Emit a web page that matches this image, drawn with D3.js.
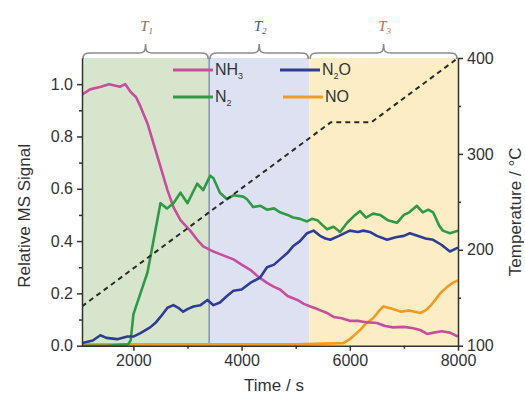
<!DOCTYPE html>
<html>
<head>
<meta charset="utf-8">
<script src="https://cdn.jsdelivr.net/npm/d3@7"></script>
<style>
  body { margin: 0; background: #fff; }
  svg { font-family: "Liberation Sans", Arial, sans-serif; }
</style>
</head>
<body>
<div id="canvas"></div>
<script>
// time (s) vs relative MS signal
var nh3 = [[1050,0.96],[1200,0.98],[1400,0.99],[1550,1.0],[1750,0.99],[1850,1.0],[1950,0.97],[2050,0.95],[2130,0.915],[2260,0.85],[2370,0.775],[2500,0.685],[2630,0.595],[2740,0.53],[2870,0.48],[3050,0.44],[3180,0.405],[3290,0.38],[3480,0.36],[3600,0.35],[3850,0.33],[4000,0.31],[4160,0.29],[4300,0.265],[4470,0.24],[4600,0.225],[4710,0.215],[4850,0.19],[5030,0.175],[5150,0.16],[5270,0.15],[5400,0.14],[5580,0.125],[5700,0.11],[5850,0.105],[6000,0.095],[6150,0.095],[6300,0.09],[6500,0.087],[6650,0.075],[6800,0.07],[7000,0.072],[7150,0.068],[7300,0.06],[7430,0.045],[7550,0.05],[7700,0.055],[7850,0.05],[8000,0.035]];
var n2 = [[1050,0.0],[1500,0.0],[1900,0.005],[1950,0.02],[2000,0.12],[2130,0.2],[2260,0.28],[2370,0.40],[2500,0.545],[2620,0.525],[2740,0.545],[2870,0.585],[3000,0.545],[3180,0.62],[3290,0.595],[3420,0.65],[3480,0.64],[3600,0.585],[3730,0.56],[3850,0.575],[4030,0.57],[4100,0.56],[4215,0.53],[4350,0.535],[4470,0.52],[4600,0.525],[4710,0.51],[4850,0.50],[4950,0.49],[5080,0.485],[5210,0.475],[5300,0.485],[5400,0.48],[5500,0.46],[5580,0.445],[5700,0.455],[5820,0.435],[5950,0.47],[6100,0.50],[6190,0.515],[6300,0.49],[6430,0.505],[6560,0.50],[6700,0.48],[6870,0.47],[7000,0.50],[7100,0.51],[7240,0.535],[7350,0.51],[7450,0.52],[7540,0.51],[7650,0.46],[7720,0.44],[7850,0.43],[8000,0.44]];
var n2o = [[1050,0.01],[1250,0.02],[1390,0.04],[1500,0.03],[1700,0.025],[1890,0.035],[2000,0.035],[2130,0.048],[2310,0.07],[2420,0.09],[2500,0.11],[2630,0.145],[2740,0.155],[2830,0.145],[2920,0.13],[3000,0.14],[3110,0.15],[3240,0.155],[3370,0.175],[3480,0.155],[3600,0.165],[3730,0.19],[3850,0.21],[4000,0.215],[4160,0.24],[4340,0.26],[4470,0.30],[4600,0.31],[4710,0.33],[4850,0.355],[4950,0.38],[5080,0.40],[5210,0.43],[5330,0.44],[5450,0.42],[5550,0.41],[5640,0.405],[5800,0.42],[6000,0.44],[6150,0.435],[6250,0.44],[6370,0.435],[6500,0.42],[6690,0.405],[6850,0.415],[7000,0.42],[7110,0.43],[7250,0.42],[7400,0.41],[7540,0.405],[7700,0.385],[7850,0.36],[8000,0.375]];
var no = [[1050,0.005],[3000,0.005],[5000,0.005],[5880,0.01],[6000,0.025],[6190,0.06],[6300,0.085],[6430,0.105],[6550,0.135],[6620,0.15],[6800,0.14],[6950,0.13],[7100,0.135],[7300,0.125],[7400,0.135],[7480,0.15],[7580,0.175],[7670,0.20],[7800,0.225],[7900,0.24],[8000,0.25]];
// temperature program (°C)
var temperature = [[1050,141],[5650,333],[6400,333],[8000,400]];

// temperature regimes
var regimes = [
  {name: 'T', sub: '1', from: 1050, to: 3400, fill: '#d8e5cd', labelColor: '#8a7448'},
  {name: 'T', sub: '2', from: 3400, to: 5250, fill: '#dee1f2', labelColor: '#3a5aa8'},
  {name: 'T', sub: '3', from: 5250, to: 8000, fill: '#fcedc4', labelColor: '#e0603a'}
];

var xTicks = [2000, 4000, 6000, 8000];
var xMinor = [3000, 5000, 7000];
var yTicks = [0.0, 0.2, 0.4, 0.6, 0.8, 1.0];
var yMinor = [0.1, 0.3, 0.5, 0.7, 0.9];
var tTicks = [100, 200, 300, 400];
var tMinor = [150, 250, 350];

var series = [
  {label: 'NO', sub: '', data: no, color: '#f39a22'},
  {label: 'NH', sub: '3', data: nh3, color: '#c64e9c'},
  {label: 'N', sub: '2', data: n2, color: '#2e9a45'},
  {label: 'N', sub: '2', tail: 'O', data: n2o, color: '#2e3c96'}
];

var width = 525, height = 394;
var pLeft = 82, pRight = 458, pTop = 58, pBottom = 345.7;

var x = d3.scaleLinear().domain([1050, 8000]).range([pLeft, pRight]);
var y = d3.scaleLinear().domain([0, 1.1]).range([pBottom, pTop]);
var yT = d3.scaleLinear().domain([100, 400]).range([pBottom, pTop]);

var svg = d3.select('#canvas').append('svg')
  .attr('width', width).attr('height', height);

svg.append('defs').append('clipPath').attr('id', 'plotClip')
  .append('rect').attr('x', pLeft).attr('y', pTop)
  .attr('width', pRight - pLeft).attr('height', pBottom - pTop + 2);

// shaded regimes
svg.selectAll('rect.regime').data(regimes).enter().append('rect')
  .attr('class', 'regime')
  .attr('x', d => x(d.from)).attr('y', pTop)
  .attr('width', d => x(d.to) - x(d.from)).attr('height', pBottom - pTop)
  .attr('fill', d => d.fill);

svg.append('line')
  .attr('x1', x(3400)).attr('x2', x(3400)).attr('y1', pTop).attr('y2', pBottom)
  .attr('stroke', '#5a6690').attr('stroke-width', 1);

// braces above each regime
function brace(x0, x1, yb) {
  var xm = (x0 + x1) / 2, h = yb - 6, tip = yb - 15;
  return 'M' + x0 + ',' + yb +
    'C' + x0 + ',' + (h + 1) + ' ' + (x0 + 2) + ',' + h + ' ' + (x0 + 8) + ',' + h +
    'L' + (xm - 7) + ',' + h +
    'C' + (xm - 2) + ',' + h + ' ' + xm + ',' + (h - 1) + ' ' + xm + ',' + tip +
    'C' + xm + ',' + (h - 1) + ' ' + (xm + 2) + ',' + h + ' ' + (xm + 7) + ',' + h +
    'L' + (x1 - 8) + ',' + h +
    'C' + (x1 - 2) + ',' + h + ' ' + x1 + ',' + (h + 1) + ' ' + x1 + ',' + yb;
}
svg.selectAll('path.brace').data(regimes).enter().append('path')
  .attr('class', 'brace')
  .attr('d', d => brace(x(d.from) + 1, x(d.to) - 1, pTop + 1))
  .attr('fill', 'none').attr('stroke', '#8c8c8c').attr('stroke-width', 1.6);

var rl = svg.selectAll('text.regime').data(regimes).enter().append('text')
  .attr('class', 'regime')
  .attr('x', d => (x(d.from) + x(d.to)) / 2 + 1).attr('y', 31)
  .attr('text-anchor', 'middle')
  .style('font-family', '"Liberation Serif", serif').style('font-style', 'italic')
  .style('font-size', '15px').attr('fill', d => d.labelColor);
rl.append('tspan').text(d => d.name);
rl.append('tspan').attr('dy', 3).style('font-size', '9px').text(d => d.sub);

// data lines
var line = d3.line().x(d => x(d[0])).y(d => y(d[1]));
var plot = svg.append('g').attr('clip-path', 'url(#plotClip)');
plot.selectAll('path.series').data(series).enter().append('path')
  .attr('class', 'series')
  .attr('d', d => line(d.data))
  .attr('fill', 'none').attr('stroke', d => d.color)
  .attr('stroke-width', 2.6).attr('stroke-linejoin', 'round');

var tLine = d3.line().x(d => x(d[0])).y(d => yT(d[1]));
plot.append('path')
  .attr('d', tLine(temperature))
  .attr('fill', 'none').attr('stroke', '#2a2a2a')
  .attr('stroke-width', 2).attr('stroke-dasharray', '5,4');

// axes
var axisColor = '#333';
var fontSize = '16px';

svg.append('g').attr('transform', 'translate(0,' + pBottom + ')')
  .call(d3.axisBottom(x).tickValues(xTicks).tickSize(5).tickPadding(4).tickSizeOuter(0).tickFormat(d3.format('d')));
svg.append('g').attr('transform', 'translate(0,' + pBottom + ')')
  .call(d3.axisBottom(x).tickValues(xMinor).tickSize(3).tickSizeOuter(0).tickFormat(''))
  .select('.domain').remove();

svg.append('g').attr('transform', 'translate(' + pLeft + ',0)')
  .call(d3.axisLeft(y).tickValues(yTicks).tickSize(5).tickPadding(4).tickSizeOuter(0).tickFormat(d3.format('.1f')));
svg.append('g').attr('transform', 'translate(' + pLeft + ',0)')
  .call(d3.axisLeft(y).tickValues(yMinor).tickSize(3).tickFormat(''))
  .select('.domain').remove();

svg.append('g').attr('transform', 'translate(' + pRight + ',0)')
  .call(d3.axisRight(yT).tickValues(tTicks).tickSize(5).tickPadding(4).tickSizeOuter(0));
svg.append('g').attr('transform', 'translate(' + pRight + ',0)')
  .call(d3.axisRight(yT).tickValues(tMinor).tickSize(3).tickFormat(''))
  .select('.domain').remove();

svg.selectAll('.domain, .tick line').attr('stroke', axisColor).attr('stroke-width', 1.5);
svg.selectAll('.tick text').attr('fill', '#333').style('font-size', fontSize)
  .style('font-family', '"Liberation Sans", Arial, sans-serif');

// axis titles
svg.append('text')
  .attr('transform', 'translate(30,' + ((pTop + pBottom) / 2 + 14) + ') rotate(-90)')
  .attr('text-anchor', 'middle').attr('fill', '#333').style('font-size', '17px')
  .text('Relative MS Signal');
svg.append('text')
  .attr('transform', 'translate(521,' + ((pTop + pBottom) / 2 + 10) + ') rotate(-90)')
  .attr('text-anchor', 'middle').attr('fill', '#333').style('font-size', '17px')
  .text('Temperature / °C');
svg.append('text')
  .attr('x', 274).attr('y', 391)
  .attr('text-anchor', 'middle').attr('fill', '#333').style('font-size', '17px')
  .text('Time / s');

// legend
var legendItems = [
  {s: series[1], lx: 173, ly: 70},
  {s: series[2], lx: 173, ly: 97},
  {s: series[3], lx: 280, ly: 70},
  {s: series[0], lx: 283, ly: 97}
];
var lg = svg.selectAll('g.legend').data(legendItems).enter().append('g')
  .attr('class', 'legend')
  .attr('transform', d => 'translate(' + d.lx + ',' + d.ly + ')');
lg.append('line').attr('x1', 0).attr('x2', 40).attr('y1', 0).attr('y2', 0)
  .attr('stroke', d => d.s.color).attr('stroke-width', 3);
var lt = lg.append('text').attr('x', 42).attr('y', 5)
  .attr('fill', '#333').style('font-size', '16px');
lt.append('tspan').text(d => d.s.label);
lt.append('tspan').attr('dy', 4).style('font-size', '9px').text(d => d.s.sub);
lt.append('tspan').attr('dy', -4).text(d => d.s.tail || '');
</script>
</body>
</html>
